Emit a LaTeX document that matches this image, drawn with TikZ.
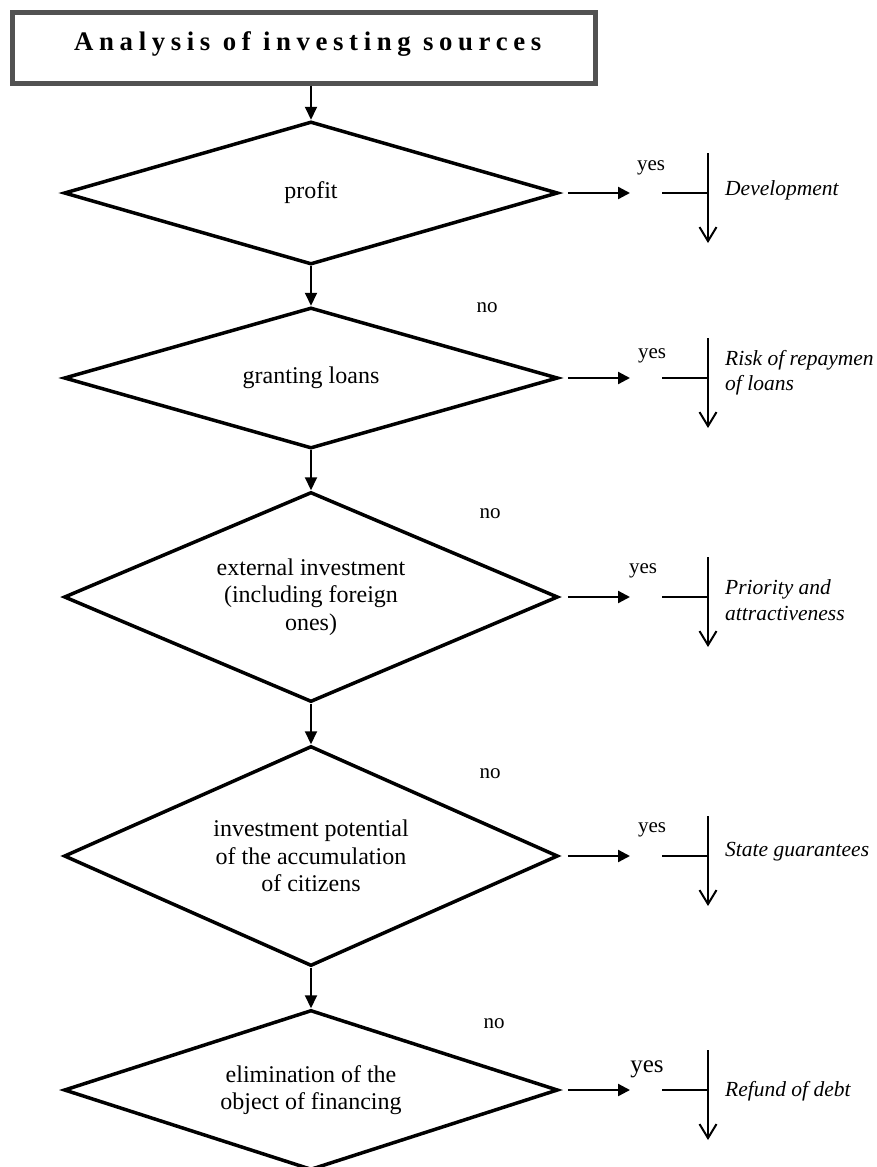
\documentclass[tikz,border=0pt]{standalone}
\usepackage{fontspec}
\setmainfont{Liberation Serif}
\newfontfamily\spacedfont[LetterSpace=21]{Liberation Serif}
\usetikzlibrary{shapes.geometric,arrows.meta}

\begin{document}
\begin{tikzpicture}[x=1pt,y=-1pt,
  titlebox/.style={draw=black!68, line width=5pt, minimum width=582.5pt,
    minimum height=70.5pt, text height=18pt, text depth=13.5pt,
    font=\spacedfont\bfseries\fontsize{26.8}{30}\selectfont},
  decision/.style={draw=black, line width=3.5pt, shape=diamond,
    minimum width=494pt, align=center, inner sep=2pt,
    font=\fontsize{24}{27.5}\selectfont},
  flow/.style={line width=2pt, -{Triangle[length=13pt,width=12pt]}},
  yesarrow/.style={line width=2.3pt, -{Triangle[length=12pt,width=12pt]}},
  branchline/.style={line width=1.3pt},
  outcome/.style={line width=2pt, -{Straight Barb[length=14pt,width=17pt]}},
  answer/.style={font=\fontsize{21}{25}\selectfont, anchor=base, inner sep=0pt},
  result/.style={font=\itshape\fontsize{21.5}{25.5}\selectfont, anchor=west,
    align=left, inner sep=0pt}]

\useasboundingbox[fill=white] (0,0) rectangle (877,1167);
\clip (0,0) rectangle (877,1167);

% heading
\node[titlebox] (title) at (303.75,47.75) {\hspace*{8pt}Analysis of investing sources};

% decision chain
\node[decision, minimum height=143pt, shape aspect=3.45] (d1) at (311,193) {profit};
\node[decision, minimum height=141pt, shape aspect=3.45] (d2) at (311,378) {granting loans};
\node[decision, minimum height=210pt, shape aspect=2.35] (d3) at (311,597)
  {external investment\\(including foreign\\ones)};
\node[decision, minimum height=220pt, shape aspect=2.25] (d4) at (311,856)
  {investment potential\\of the accumulation\\of citizens};
\node[decision, minimum height=160pt, shape aspect=3.09] (d5) at (311,1090)
  {elimination of the\\object of financing};

\draw[flow] (title.south -| d1.north) -- (d1.north);
\draw[flow] (d1.south) -- (d2.north);
\draw[flow] (d2.south) -- (d3.north);
\draw[flow] (d3.south) -- (d4.north);
\draw[flow] (d4.south) -- (d5.north);

% "no" answers along the chain
\node[answer] (n2) at (487,312) {no};
\node[answer] (n3) at (490,518) {no};
\node[answer] (n4) at (490,778) {no};
\node[answer] (n5) at (494,1028) {no};

% "yes" branches
\foreach \n/\r in {1/193, 2/378, 3/597, 4/856, 5/1090} {
  \coordinate (yes\n) at (630,\r);
  \coordinate (fork\n) at (708,\r);
  \coordinate (top\n) at (708,\r-40);
  \coordinate (end\n) at (708,\r+50);
  \draw[yesarrow] ([xshift=8pt]d\n.east) -- (yes\n);
  \draw[branchline] ([xshift=-46pt]fork\n) -- (fork\n);
  \draw[outcome] (top\n) -- (end\n);
}

\node[answer] (a1) at (651,170.5) {yes};
\node[answer] (a2) at (652,358) {yes};
\node[answer] (a3) at (643,573) {yes};
\node[answer] (a4) at (652,832) {yes};
\node[answer, font=\fontsize{25}{29}\selectfont] (a5) at (647,1072) {yes};

% outcomes
\node[result] (l1) at (725,190) {Development};
\node[result] (l2) at (725,372.5) {Risk of repaymen\\of loans};
\node[result] (l3) at (725,600) {Priority and\\attractiveness};
\node[result] (l4) at (725,852) {State guarantees};
\node[result] (l5) at (725,1091) {Refund of debt};
\end{tikzpicture}
\end{document}
